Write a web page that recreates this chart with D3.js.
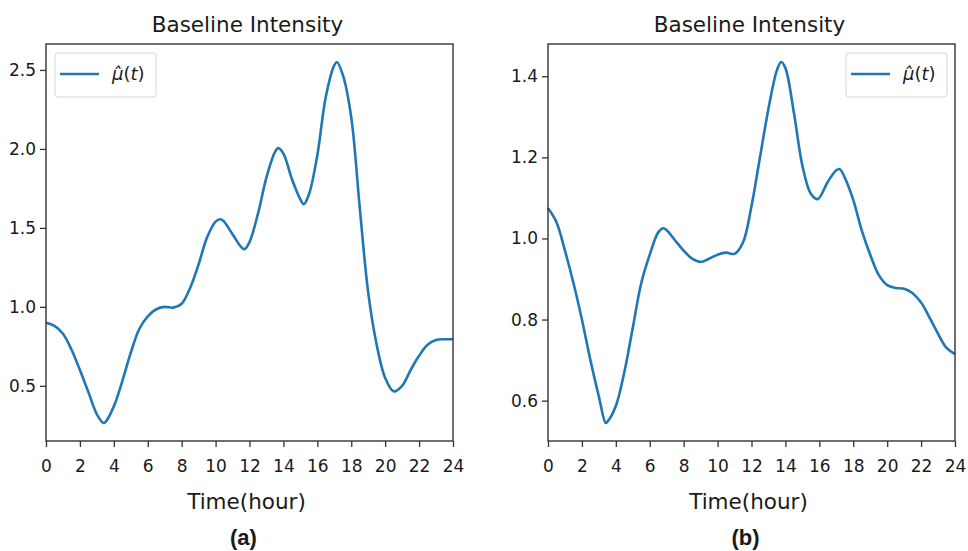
<!DOCTYPE html>
<html>
<head>
<meta charset="utf-8">
<script src="https://cdn.jsdelivr.net/npm/d3@7"></script>
<style>
  html, body { margin: 0; padding: 0; background: #fff; }
  svg { display: block; }
  text { font-family: "DejaVu Sans", sans-serif; fill: #1a1a1a; }
</style>
</head>
<body>
<svg id="chart" width="968" height="551"></svg>
<script>
// ---------- data ----------
const titles = ["Baseline Intensity", "Baseline Intensity"];
const panelLabels = ["(a)", "(b)"];
const xLabel = "Time(hour)";
const xTicks = [0, 2, 4, 6, 8, 10, 12, 14, 16, 18, 20, 22, 24];
const yTicksA = [0.5, 1.0, 1.5, 2.0, 2.5];
const yTicksB = [0.6, 0.8, 1.0, 1.2, 1.4];

const timeA = [0, 0.5, 1, 1.5, 2, 2.5, 3, 3.4, 3.5, 4, 4.5, 5, 5.5, 6, 6.5, 7, 7.5, 8, 8.5, 9, 9.5, 10, 10.3, 10.5, 11, 11.5, 11.7, 12, 12.5, 13, 13.5, 13.7, 14, 14.5, 15, 15.2, 15.5, 16, 16.5, 17, 17.15, 17.5, 18, 18.5, 19, 19.5, 20, 20.5, 21, 21.5, 22, 22.5, 23, 23.5, 24];
const valuesA = [0.90, 0.88, 0.83, 0.73, 0.60, 0.46, 0.32, 0.265, 0.27, 0.37, 0.53, 0.71, 0.86, 0.94, 0.985, 1.0, 0.995, 1.02, 1.12, 1.27, 1.44, 1.54, 1.555, 1.54, 1.46, 1.38, 1.365, 1.41, 1.59, 1.82, 1.98, 2.005, 1.97, 1.81, 1.68, 1.65, 1.71, 1.96, 2.33, 2.53, 2.55, 2.47, 2.20, 1.63, 1.09, 0.76, 0.55, 0.465, 0.50, 0.60, 0.69, 0.76, 0.79, 0.795, 0.795];

const timeB = [0, 0.5, 1, 1.5, 2, 2.5, 3, 3.4, 3.5, 4, 4.5, 5, 5.5, 6, 6.5, 6.8, 7, 7.5, 8, 8.5, 9, 9.5, 10, 10.5, 11, 11.5, 12, 12.5, 13, 13.5, 13.75, 14, 14.5, 15, 15.5, 15.9, 16.5, 17, 17.2, 17.5, 18, 18.5, 19, 19.5, 20, 20.5, 21, 21.5, 22, 22.5, 23, 23.5, 24];
const valuesB = [1.075, 1.04, 0.97, 0.89, 0.80, 0.70, 0.61, 0.545, 0.548, 0.587, 0.67, 0.78, 0.89, 0.96, 1.015, 1.025, 1.02, 0.995, 0.97, 0.95, 0.942, 0.95, 0.96, 0.965, 0.962, 0.99, 1.08, 1.20, 1.32, 1.415, 1.435, 1.42, 1.31, 1.18, 1.11, 1.097, 1.14, 1.168, 1.171, 1.15, 1.095, 1.02, 0.96, 0.91, 0.885, 0.878, 0.876, 0.865, 0.842, 0.805, 0.765, 0.73, 0.715];

const seriesName = "μ\u0302(t)";
const lineColor = "#1f77b4";

// ---------- layout ----------
const panels = [
  { left: 46, right: 453, top: 44, bottom: 441, time: timeA, values: valuesA, yTicks: yTicksA, title: titles[0], label: panelLabels[0], legend: "left" },
  { left: 548, right: 955, top: 44, bottom: 441, time: timeB, values: valuesB, yTicks: yTicksB, title: titles[1], label: panelLabels[1], legend: "right" }
];

const svg = d3.select("#chart");

panels.forEach(p => {
  const g = svg.append("g");
  const x = d3.scaleLinear().domain([0, 24]).range([p.left, p.right]);
  const [mn, mx] = d3.extent(p.values);
  const pad = (mx - mn) * 0.05;
  const y = d3.scaleLinear().domain([mn - pad, mx + pad]).range([p.bottom, p.top]);

  // line
  const data = p.time.map((t, i) => [t, p.values[i]]);
  g.append("path")
    .datum(data)
    .attr("fill", "none")
    .attr("stroke", lineColor)
    .attr("stroke-width", 2.6)
    .attr("stroke-linejoin", "round")
    .attr("d", d3.line().x(d => x(d[0])).y(d => y(d[1])).curve(d3.curveCatmullRom.alpha(0.5)));

  // axes
  const xAxis = d3.axisBottom(x).tickValues(xTicks).tickSize(6).tickPadding(13).tickFormat(d3.format("d"));
  const yAxis = d3.axisLeft(y).tickValues(p.yTicks).tickSize(6).tickPadding(4).tickFormat(d3.format(".1f"));

  const gx = g.append("g").attr("transform", `translate(0,${p.bottom})`).call(xAxis);
  const gy = g.append("g").attr("transform", `translate(${p.left},0)`).call(yAxis);
  [gx, gy].forEach(a => {
    a.select(".domain").remove();
    a.selectAll(".tick line").attr("stroke", "#333").attr("stroke-width", 1.3);
    a.selectAll(".tick text").style("font-size", "17px").attr("fill", "#1a1a1a");
  });

  // frame
  g.append("rect")
    .attr("x", p.left).attr("y", p.top)
    .attr("width", p.right - p.left).attr("height", p.bottom - p.top)
    .attr("fill", "none").attr("stroke", "#333").attr("stroke-width", 1.4);

  const cx = (p.left + p.right) / 2;
  // title
  g.append("text").attr("x", cx - 2).attr("y", 32)
    .attr("text-anchor", "middle").style("font-size", "21.5px").text(p.title);
  // x label
  g.append("text").attr("x", cx - 3).attr("y", 509)
    .attr("text-anchor", "middle").style("font-size", "21.5px").text(xLabel);
  // panel label
  g.append("text").attr("x", cx - 6).attr("y", 545)
    .attr("text-anchor", "middle")
    .style("font-family", "'Liberation Sans', Arial, sans-serif")
    .style("font-weight", "bold").style("font-size", "22px").text(p.label);

  // legend
  const lx = p.legend === "left" ? p.left + 9 : p.right - 109;
  const lg = g.append("g").attr("transform", `translate(${lx},53)`);
  lg.append("rect").attr("width", 101).attr("height", 44).attr("rx", 3)
    .attr("fill", "#fff").attr("fill-opacity", 0.8)
    .attr("stroke", "#d6d6d6").attr("stroke-width", 1);
  lg.append("line").attr("x1", 5).attr("x2", 44).attr("y1", 21).attr("y2", 21)
    .attr("stroke", lineColor).attr("stroke-width", 2.6);
  const lt = lg.append("text").attr("x", 57).attr("y", 27).style("font-size", "18px");
  lt.append("tspan").style("font-style", "italic").text(seriesName.slice(0, 2));
  lt.append("tspan").text("(");
  lt.append("tspan").style("font-style", "italic").text("t");
  lt.append("tspan").text(")");
});
</script>
</body>
</html>
